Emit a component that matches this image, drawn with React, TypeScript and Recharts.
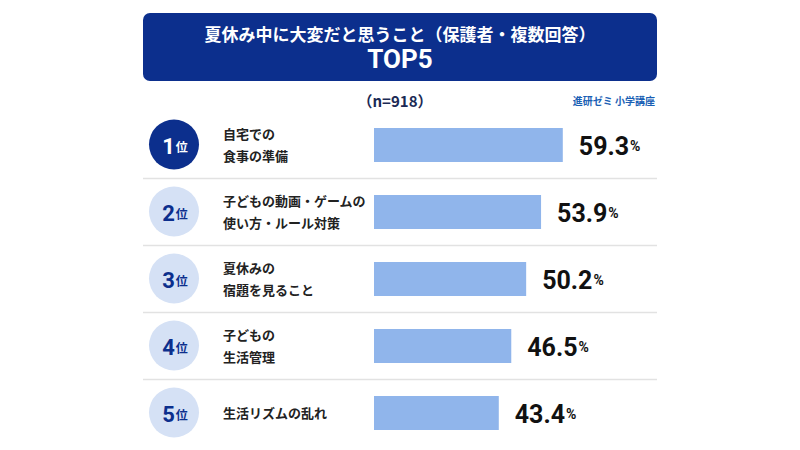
import { BarChart, Bar, XAxis, YAxis, LabelList } from "recharts";

const items = [
  "自宅での|食事の準備",
  "子どもの動画・ゲームの|使い方・ルール対策",
  "夏休みの|宿題を見ること",
  "子どもの|生活管理",
  "生活リズムの乱れ",
];
const values = [59.3, 53.9, 50.2, 46.5, 43.4];
const ranks = [1, 2, 3, 4, 5];

const data = items.map((name, i) => ({ name, value: values[i], rank: ranks[i] }));

const NAVY = "#0c2f8d";
const JP = "'Noto Sans CJK JP', 'Noto Sans', sans-serif";
const NUM = "Roboto, 'Noto Sans', sans-serif";

// 順位の丸 + 項目名 + 区切り線
const RankTick = (props: any) => {
  const { y, payload, index } = props;
  const lines: string[] = String(payload.value).split("|");
  const rank = ranks[index];
  const first = rank === 1;
  return (
    <g>
      <circle cx={174} cy={y} r={25} fill={first ? NAVY : "#d5e1f5"} />
      <text
        x={175}
        y={y + 1}
        textAnchor="middle"
        dominantBaseline="central"
        fill={first ? "#fff" : NAVY}
        fontFamily={JP}
        fontWeight={700}
      >
        <tspan fontSize={22} fontFamily={NUM}>{rank}</tspan>
        <tspan fontSize={12} dx={1}>位</tspan>
      </text>
      {lines.map((l, i) => (
        <text
          key={i}
          x={223}
          y={y + (i - (lines.length - 1) / 2) * 22}
          dominantBaseline="central"
          fontSize={13}
          fontWeight={700}
          fill="#222"
          fontFamily={JP}
        >
          {l}
        </text>
      ))}
      {index < items.length - 1 && (
        <line x1={143} x2={657} y1={y + 34} y2={y + 34} stroke="#e2e2e2" strokeWidth={1.5} />
      )}
    </g>
  );
};

const ValueLabel = (props: any) => {
  const { x, y, width, height, value } = props;
  return (
    <text
      x={x + width + 16}
      y={y + height / 2 + 1}
      dominantBaseline="central"
      fill="#111"
      fontFamily={NUM}
      fontWeight={700}
    >
      <tspan fontSize={25}>{value.toFixed(1)}</tspan>
      <tspan fontSize={14} dx={1}>%</tspan>
    </text>
  );
};

export default function App() {
  return (
    <div style={{ position: "absolute", left: 0, top: 0, width: 800, height: 450, background: "#fff" }}>
      <div
        style={{
          position: "absolute",
          left: 143,
          top: 13,
          width: 514,
          height: 68,
          background: NAVY,
          borderRadius: 7,
          color: "#fff",
          textAlign: "center",
          fontFamily: JP,
          fontWeight: 700,
        }}
      >
        <div style={{ fontSize: 17, lineHeight: "20px", marginTop: 11 }}>
          夏休み中に大変だと思うこと（保護者・複数回答）
        </div>
        <div style={{ fontSize: 26, lineHeight: "30px", fontFamily: NUM }}>TOP5</div>
      </div>
      <div
        style={{
          position: "absolute",
          left: 345,
          top: 90,
          width: 100,
          textAlign: "center",
          fontFamily: JP,
          fontWeight: 700,
          fontSize: 15,
          color: "#1b2a55",
        }}
      >
        （n=918）
      </div>
      <div
        style={{
          position: "absolute",
          right: 145,
          top: 93,
          fontFamily: JP,
          fontWeight: 700,
          fontSize: 10,
          color: "#1a5fb4",
        }}
      >
        進研ゼミ 小学講座
      </div>
      <BarChart
        width={800}
        height={450}
        data={data}
        layout="vertical"
        margin={{ top: 111, right: 174, bottom: 4, left: 0 }}
        style={{ position: "absolute", left: 0, top: 0 }}
      >
        <XAxis type="number" hide domain={[12.4, 75]} allowDataOverflow />
        <YAxis
          type="category"
          dataKey="name"
          width={374}
          axisLine={false}
          tickLine={false}
          tick={<RankTick />}
          interval={0}
        />
        <Bar dataKey="value" fill="#90b5eb" barSize={34} isAnimationActive={false}>
          <LabelList dataKey="value" content={<ValueLabel />} />
        </Bar>
      </BarChart>
    </div>
  );
}
